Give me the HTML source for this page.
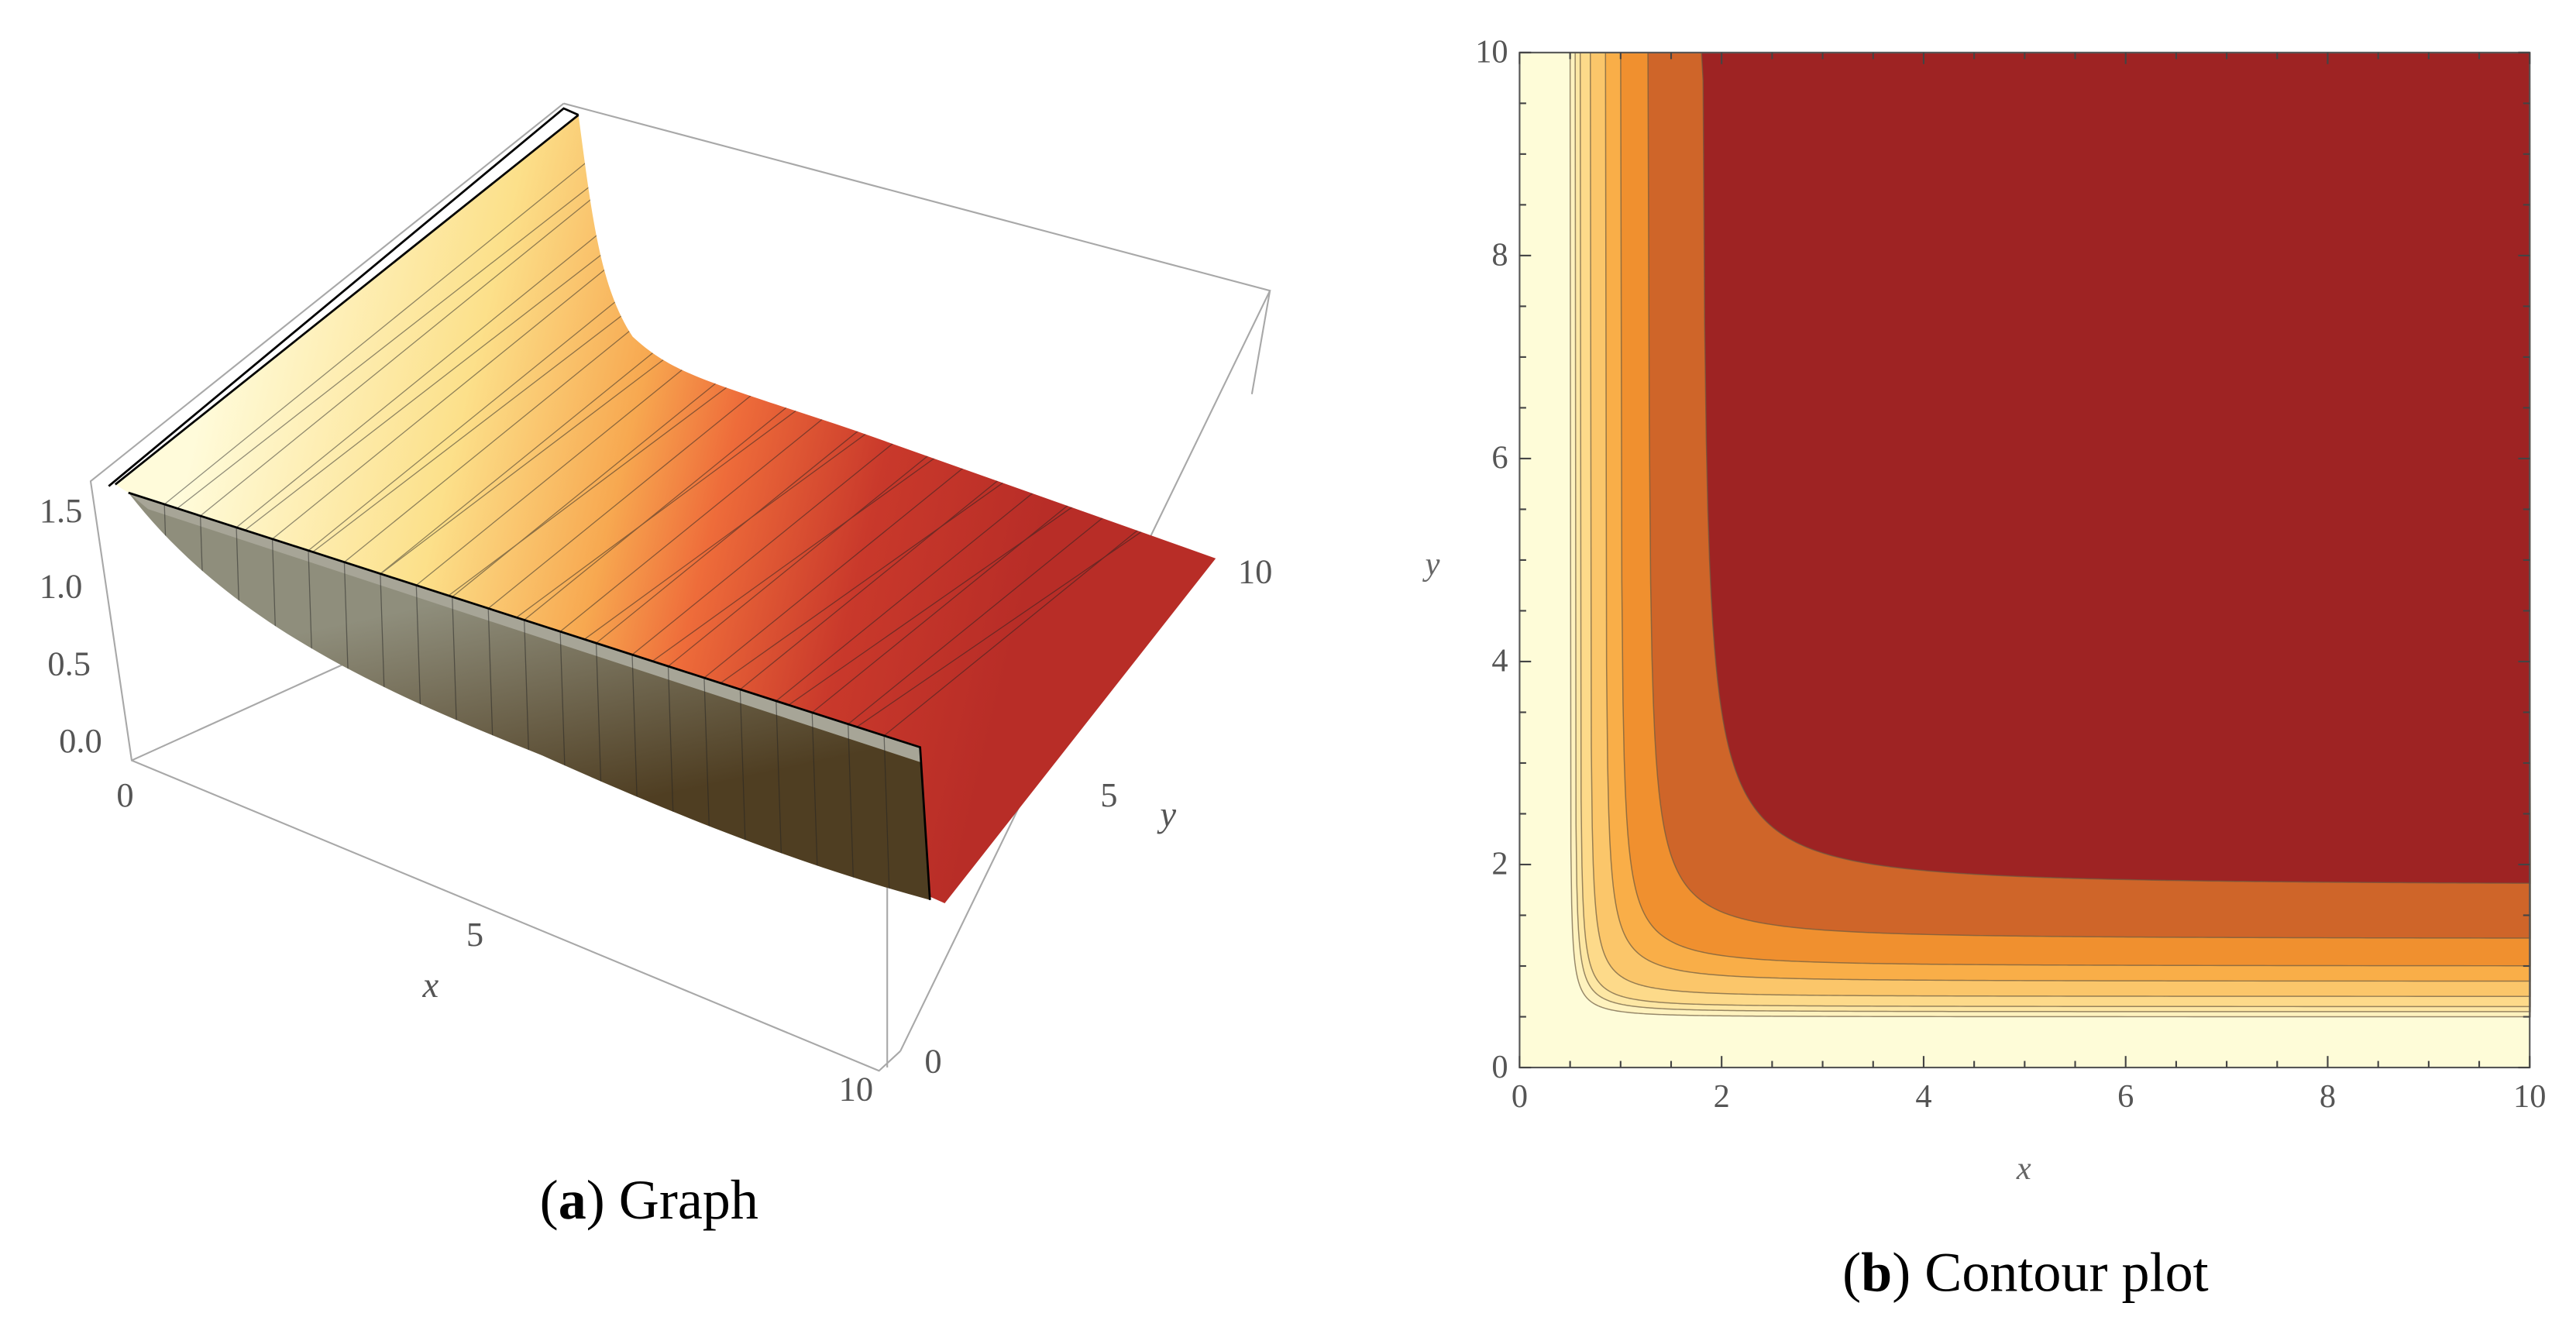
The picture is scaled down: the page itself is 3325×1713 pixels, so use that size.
<!DOCTYPE html>
<html><head><meta charset="utf-8"><style>
html,body{margin:0;padding:0;background:#fff;}
svg{display:block;font-family:"Liberation Serif",serif;}
</style></head><body>
<svg width="3325" height="1713" viewBox="0 0 1568 808" xmlns="http://www.w3.org/2000/svg">
<defs>
<linearGradient id="surfGrad" x1="120" y1="260" x2="620" y2="380" gradientUnits="userSpaceOnUse">
<stop offset="0" stop-color="#FFFBDA"/><stop offset="0.3" stop-color="#FCE08A"/><stop offset="0.5" stop-color="#F7A850"/><stop offset="0.62" stop-color="#EE6C3A"/><stop offset="0.8" stop-color="#C9392B"/><stop offset="1" stop-color="#B82D27"/>
</linearGradient>
<linearGradient id="wallGrad" x1="300" y1="360" x2="330" y2="500" gradientUnits="userSpaceOnUse">
<stop offset="0" stop-color="#8f8e7c"/><stop offset="1" stop-color="#4f3e22"/>
</linearGradient>
<clipPath id="surfClip"><path d="M70,295 L352,70 C360,130 365,175 385,205 C410,228 430,232 520,262 L740,340 L575,550 L566,546 L560,455 L78,300 Z"/></clipPath>
<clipPath id="wallClip"><path d="M78,300 L560,455 L566,548 C500,530 430,505 330,460 C230,420 140,380 78,300 Z"/></clipPath>
</defs>
<g>
 <g stroke="#a8a8a8" stroke-width="1" fill="none">
  <polyline points="80,463 340,345"/>
  <polyline points="343,63 773,177 548,640"/>
  <polyline points="343,63 55,293 80,463 535,652 548,640"/>
  <polyline points="540,490 540,650"/>
  <polyline points="773,177 762,240"/>
 </g>
 <path fill="url(#surfGrad)" d="M70,295 L352,70 C360,130 365,175 385,205 C410,228 430,232 520,262 L740,340 L575,550 L566,546 L560,455 L78,300 Z"/>
 <path fill="url(#wallGrad)" d="M78,300 L560,455 L566,548 C500,530 430,505 330,460 C230,420 140,380 78,300 Z"/>
 <path fill="#a7a597" d="M78,300 L560,455 L560,464 L90,310 Z"/>
 <g id="meshSurf" stroke="#222" stroke-width="0.6" opacity="0.5" fill="none" clip-path="url(#surfClip)"></g>
 <g id="meshWall" stroke="#222" stroke-width="0.6" opacity="0.5" fill="none" clip-path="url(#wallClip)"></g>
 <g stroke="#000" stroke-width="1.3" fill="none">
  <polyline points="70,295 352,70"/>
  <polyline points="66,296 343,66 352,70"/>
  <polyline points="78,300 560,455 566,548"/>
 </g>
 <g font-size="21" fill="#555" text-anchor="end">
  <text x="50" y="318">1.5</text><text x="50" y="364">1.0</text><text x="55" y="411">0.5</text><text x="62" y="458">0.0</text>
 </g>
 <g font-size="21" fill="#555" text-anchor="middle">
  <text x="76" y="491">0</text><text x="289" y="576">5</text><text x="521" y="670">10</text>
 </g>
 <text x="262" y="607" font-size="22" font-style="italic" fill="#555" text-anchor="middle">x</text>
 <g font-size="21" fill="#555" text-anchor="middle">
  <text x="568" y="653">0</text><text x="675" y="491">5</text><text x="764" y="355">10</text>
 </g>
 <text x="711" y="503" font-size="22" font-style="italic" fill="#555" text-anchor="middle">y</text>
</g>
<text x="395" y="742" font-size="34" text-anchor="middle">(<tspan font-weight="bold">a</tspan>) Graph</text>

<g>
 <rect x="925" y="32" width="615" height="618" fill="#FEFCD8"/>
 <g id="bands"></g>
 <rect x="925" y="32" width="615" height="618" fill="none" stroke="#555" stroke-width="1"/>
 <g id="ticks" stroke="#444" stroke-width="1"></g>
 <g id="ticklabels" font-size="20" fill="#555"></g>
 <text x="1232" y="718" font-size="20" font-style="italic" fill="#666" text-anchor="middle">x</text>
 <text x="872" y="350" font-size="20" font-style="italic" fill="#666" text-anchor="middle">y</text>
</g>
<text x="1233" y="786" font-size="34" text-anchor="middle">(<tspan font-weight="bold">b</tspan>) Contour plot</text>
</svg>
<script>
const levelAsymptotes = [0.5, 0.55, 0.6, 0.7, 0.85, 1.0, 1.27, 1.8];
const levelColors = ["#FEF2BE", "#FDE7A4", "#FDDA8A", "#FBC66A", "#F9AE48", "#F0902F", "#CF6529", "#9E2323"];
const tickValues = [0, 2, 4, 6, 8, 10];
const tickLabels = ["0", "2", "4", "6", "8", "10"];
const sx = v => 925 + v / 10 * 615;
const sy = v => 650 - v / 10 * 618;
const NS = "http://www.w3.org/2000/svg";
const p = 2.3;
const bands = document.getElementById("bands");
levelAsymptotes.forEach((a, i) => {
  const pts = [];
  const ap = Math.pow(a, -p);
  for (let k = 0; k <= 200; k++) {
    const x = a * Math.pow(10 / a, k / 200) * 1.0005;
    const d = ap - Math.pow(x, -p);
    if (d <= 0) continue;
    let y = Math.pow(d, -1 / p);
    if (y > 10) y = 10;
    pts.push([x, y]);
  }
  let dstr = "M" + sx(pts[0][0]) + "," + sy(10);
  pts.forEach(q => { dstr += " L" + sx(q[0]).toFixed(2) + "," + sy(q[1]).toFixed(2); });
  dstr += " L" + sx(10) + "," + sy(10) + " Z";
  const path = document.createElementNS(NS, "path");
  path.setAttribute("d", dstr);
  path.setAttribute("fill", levelColors[i]);
  path.setAttribute("stroke", "#6b5a40");
  path.setAttribute("stroke-width", "0.7");
  path.setAttribute("stroke-opacity", "0.7");
  
  
  bands.appendChild(path);
});
const ticks = document.getElementById("ticks");
const tl = document.getElementById("ticklabels");
for (let m = 0; m <= 20; m++) {
  const v = m * 0.5;
  const len = (m % 4 === 0) ? 7 : 4;
  const lines = [[sx(v), 650, sx(v), 650 - len], [sx(v), 32, sx(v), 32 + len], [925, sy(v), 925 + len, sy(v)], [1540, sy(v), 1540 - len, sy(v)]];
  lines.forEach(l => {
    const ln = document.createElementNS(NS, "line");
    ln.setAttribute("x1", l[0]); ln.setAttribute("y1", l[1]); ln.setAttribute("x2", l[2]); ln.setAttribute("y2", l[3]);
    
    
    ticks.appendChild(ln);
  });
}
tickValues.forEach((v, i) => {
  const tx = document.createElementNS(NS, "text");
  tx.setAttribute("x", sx(v)); tx.setAttribute("y", 674); tx.setAttribute("text-anchor", "middle");
  tx.textContent = tickLabels[i];
  
  
  tl.appendChild(tx);
  const ty = document.createElementNS(NS, "text");
  ty.setAttribute("x", 918); ty.setAttribute("y", sy(v) + 6); ty.setAttribute("text-anchor", "end");
  ty.textContent = tickLabels[i];
  
  
  tl.appendChild(ty);
});
// decorative mesh on 3D surface
const meshS = document.getElementById("meshSurf");
const meshW = document.getElementById("meshWall");
for (let k = 1; k < 22; k++) {
  const t = k / 22;
  const x0 = 78 + (560 - 78) * t, y0 = 300 + (455 - 300) * t;
  const ln = document.createElementNS(NS, "line");
  ln.setAttribute("x1", x0); ln.setAttribute("y1", y0);
  ln.setAttribute("x2", x0 + 4); ln.setAttribute("y2", y0 + 120);
  
  
  meshW.appendChild(ln);
  const ln2 = document.createElementNS(NS, "line");
  ln2.setAttribute("x1", x0); ln2.setAttribute("y1", y0);
  ln2.setAttribute("x2", x0 + 290); ln2.setAttribute("y2", y0 - 235);
  
  
  meshS.appendChild(ln2);
}
for (let k = 1; k < 12; k++) {
  const t = k / 12;
  const ln3 = document.createElementNS(NS, "line");
  ln3.setAttribute("x1", 70 + (560 - 70) * t - 40); ln3.setAttribute("y1", 295 + (455 - 295) * t + 30);
  ln3.setAttribute("x2", 352 + (740 - 352) * t + 40); ln3.setAttribute("y2", 70 + (340 - 70) * t - 30);
  
  
  meshS.appendChild(ln3);
}
</script>
</body></html>
